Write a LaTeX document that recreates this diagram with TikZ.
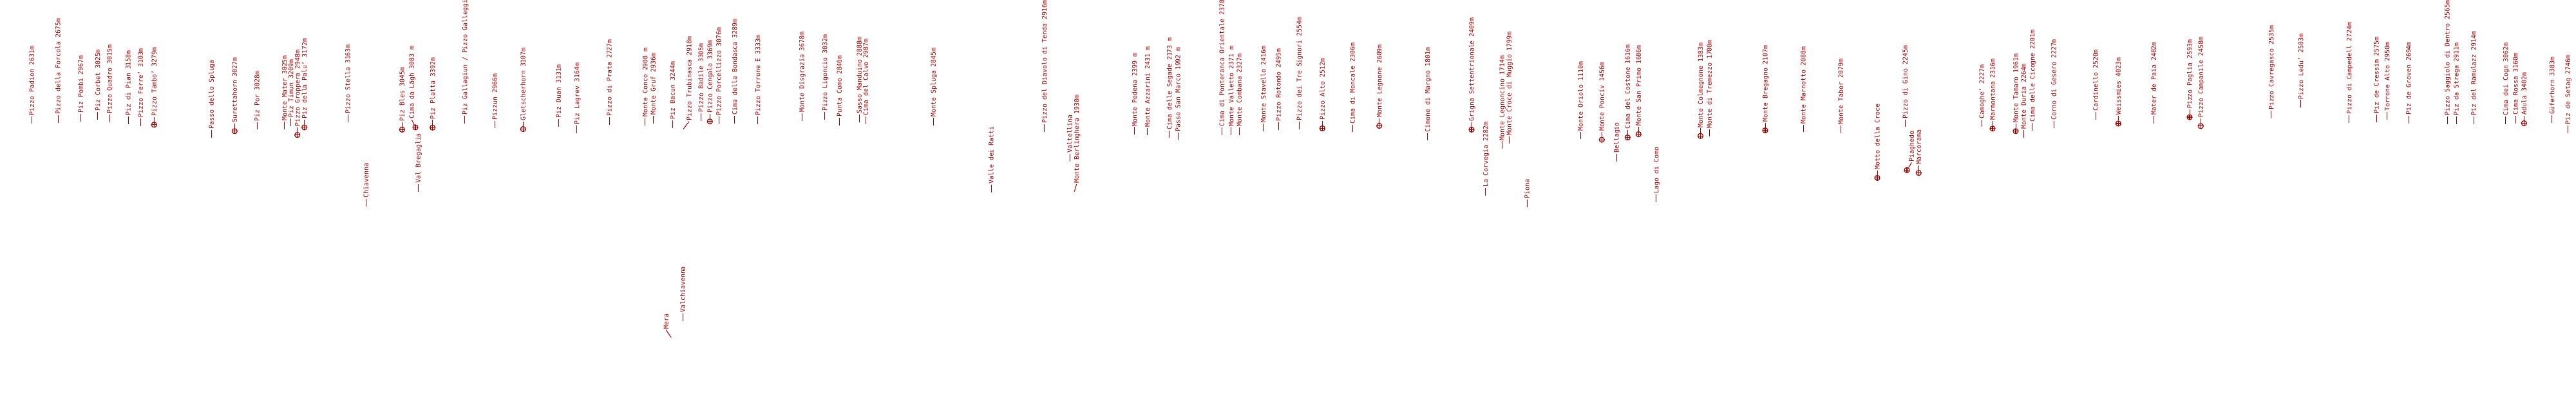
\documentclass[tikz,border=0pt]{standalone}
\usepackage{fontspec}
\newfontfamily\peakfont{DejaVu Sans Mono}
\definecolor{peakred}{RGB}{160,0,0}
\begin{document}
\begin{tikzpicture}[x=0.5pt,y=-0.59pt,
    peak/.style={rotate=90,anchor=west,inner xsep=0.5pt,inner ysep=0pt,
      text height=3.6pt,text depth=0pt,text=peakred,
      font=\peakfont\fontsize{4.95}{6}\selectfont},
    leader/.style={draw=peakred,line width=0.5pt},
    target/.style={circle,draw=peakred,line width=0.6pt,minimum size=4pt,inner sep=0pt,
      path picture={\draw[peakred,line width=0.6pt]
        (path picture bounding box.north) -- (path picture bounding box.south)
        (path picture bounding box.west) -- (path picture bounding box.east);}}]
    \useasboundingbox (0,0) rectangle (4000,525.4);
    \clip (0,0) rectangle (4000,525.4);
    % x / y of the point, shift of the label, target mark, label
    \foreach \px/\py/\dx/\mk/\txt [count=\i] in {
        49.3/163/0/0/{Pizzo Padion 2631m},
        90/162/0/0/{Pizzo della Forcola 2675m},
        125.3/160/0/0/{Piz Pombi 2967m},
        151.7/157.3/0/0/{Piz Corbet 3025m},
        170/161/0/0/{Pizzo Quadro 3015m},
        199/163.3/0/0/{Piz di Pian 3158m},
        218.3/165.7/0/0/{Pizzo Ferre’ 3103m},
        239.3/164.3/0/1/{Pizzo Tambo’ 3279m},
        328.3/181/0/0/{Passo dello Spluga},
        364.3/172.7/0/1/{Surettahorn 3027m},
        399/170.7/0/0/{Piz Por 3028m},
        441.7/170/0/0/{Monte Mater 3025m},
        451.7/165.7/0/0/{Piz Timun 3209m},
        461.7/177.7/0/1/{Pizzo Groppera 2948m},
        472.7/167.7/0/1/{Piz della Palu’ 3172m},
        540/160.7/0/0/{Pizzo Stella 3163m},
        568.3/271.7/0/0/{Chiavenna},
        624.3/170.7/0/1/{Piz Bles 3045m},
        645/167.7/-5.7/1/{Cima da Lägh 3083 m},
        649.3/252.3/0/0/{Val Bregaglia},
        671.7/168/0/1/{Piz Platta 3392m},
        721.7/162.3/0/0/{Piz Gallagiun / Pizzo Galleggi},
        768.3/169/0/0/{Pizzun 2966m},
        812.3/170/0/1/{Gletscherhorn 3107m},
        867.3/166.7/0/0/{Piz Duan 3131m},
        895.7/175/0/0/{Piz Lagrev 3164m},
        946/164/0/0/{Pizzo di Prata 2727m},
        1001.7/165/0/0/{Monte Conco 2908 m},
        1014.3/162.3/0/0/{Monte Gruf 2936m},
        1044.3/168.3/0/0/{Piz Bacun 3244m},
        1061/170/9/0/{Pizzo Trubinasca 2918m},
        1088.3/159/0/0/{Pizzo Badile 3305m},
        1102.3/160/0/1/{Pizzo Cengalo 3369m},
        1116/163.3/0/0/{Pizzo Porcellizzo 3076m},
        1140.7/162.3/0/0/{Cima della Bondasca 3289m},
        1176.7/163.3/0/0/{Pizzo Torrone E 3333m},
        1245/159/0/0/{Monte Disgrazia 3678m},
        1280.7/157.7/0/0/{Pizzo Ligoncio 3032m},
        1303.3/165/0/0/{Punta Como 2846m},
        1042.3/444.5/-8/0/{Mera},
        1060/422.7/0/0/{Valchiavenna},
        1334.3/160.7/0/0/{Sasso Manduino 2888m},
        1344.3/163.3/0/0/{Cima del Calvo 2987m},
        1449.3/165/0/0/{Monte Spluga 2845m},
        1539/253.3/0/0/{Valle dei Ratti},
        1621.7/173.3/0/0/{Pizzo del Diavolo di Tenda 2916m},
        1661/212.7/0/0/{Valtellina},
        1668.3/252.3/3.4/0/{Monte Berlinghera 1930m},
        1761.7/177.3/0/0/{Monte Pedena 2399 m},
        1781.7/178.3/0/0/{Monte Azzarini 2431 m},
        1815.7/181.7/0/0/{Cima delle Segade 2173 m},
        1829/184.3/0/0/{Passo San Marco 1992 m},
        1897.3/177.7/0/0/{Cima di Ponteranca Orientale 2378},
        1911.7/177.7/0/0/{Monte Valletto 2371 m},
        1924.3/177.7/0/0/{Monte Combana 2327m},
        1961.7/172.7/0/0/{Monte Stavello 2416m},
        1985/171/0/0/{Pizzo Rotondo 2495m},
        2017.3/170/0/0/{Pizzo dei Tre Signori 2554m},
        2053.3/169/0/1/{Pizzo Alto 2512m},
        2100/174/0/0/{Cima di Moncale 2306m},
        2141.7/165.7/0/1/{Monte Legnone 2609m},
        2216.7/185/0/0/{Cimone di Margno 1801m},
        2285/170.7/0/1/{Grigna Settentrionale 2409m},
        2306.7/257.7/0/0/{La Corvegia 2282m},
        2332.3/196/0/0/{Monte Legnoncino 1714m},
        2343.3/189.3/0/0/{Monte Croce di Muggio 1799m},
        2371/272.7/0/0/{Piona},
        2454.3/183.3/0/0/{Monte Oriolo 1110m},
        2487.3/184/0/1/{Monte Ponciv 1456m},
        2510/212.7/0/0/{Bellagio},
        2527.3/181/0/1/{Cima del Costone 1616m},
        2544.3/176.7/0/1/{Monte San Primo 1686m},
        2571.7/265.7/0/0/{Lago di Como},
        2640.5/179/0/1/{Monte Colmegnone 1383m},
        2654.3/180/0/0/{Monte di Tremezzo 1700m},
        2741/171.7/0/1/{Monte Bregagno 2107m},
        2800/174/0/0/{Monte Marnotto 2088m},
        2858.3/175/0/0/{Monte Tabor 2079m},
        2915/234.3/0/1/{Motto della Croce},
        2958.3/167.3/0/0/{Pizzo di Gino 2245m},
        2961/224/7.3/1/{Piaghedo},
        2979.3/227.7/0/1/{Marcorama},
        3077.3/167.3/0/0/{Camoghe’ 2227m},
        3094/169.3/0/1/{Marmontana 2316m},
        3130/172.7/0/1/{Monte Tamaro 1961m},
        3142.3/181/0/0/{Monte Duria 2264m},
        3155.7/171.7/0/0/{Cima delle Cicogne 2201m},
        3189/169/0/0/{Corno di Gesero 2227m},
        3254/157.3/0/0/{Cardinello 2520m},
        3289.3/162.7/0/1/{Weissmies 4023m},
        3344.3/162.3/0/0/{Mater de Paia 2482m},
        3400/154.3/0/1/{Pizzo Paglia 2593m},
        3417.3/166/0/1/{Pizzo Campanile 2458m},
        3526.7/156/0/0/{Pizzo Cavregasco 2535m},
        3572.7/141.7/0/0/{Pizzo Ledu’ 2503m},
        3647.7/161.7/0/0/{Pizzo di Campedell 2724m},
        3690/160.7/0/0/{Piz de Cressim 2575m},
        3706.7/157.7/0/0/{Torrone Alto 2950m},
        3740/162.3/0/0/{Piz de Groven 2694m},
        3800/163.3/0/0/{Pizzo Saggiolo di Dentro 2565m},
        3814/163.3/0/0/{Piz da Strega 2911m},
        3841/163.3/0/0/{Piz del Ramulazz 2914m},
        3890.7/163.3/0/0/{Cima dei Cogn 3062m},
        3906/162.3/0/0/{Cima Rossa 3160m},
        3919.3/162.3/0/1/{Adula 3402m},
        3962.7/161.7/0/0/{Güferhorn 3383m},
        3987.3/175/0/0/{Piz de Setag 2746m}%
    }{
        \ifnum\mk=1
            \node[target] (p\i) at (\px,\py) {};
        \else
            \coordinate (p\i) at (\px,\py);
        \fi
        \node[peak] (l\i) at ({\px+\dx},{\py-10}) {\txt};
        \draw[leader] (p\i) -- (l\i.west);
    }
\end{tikzpicture}
\end{document}
